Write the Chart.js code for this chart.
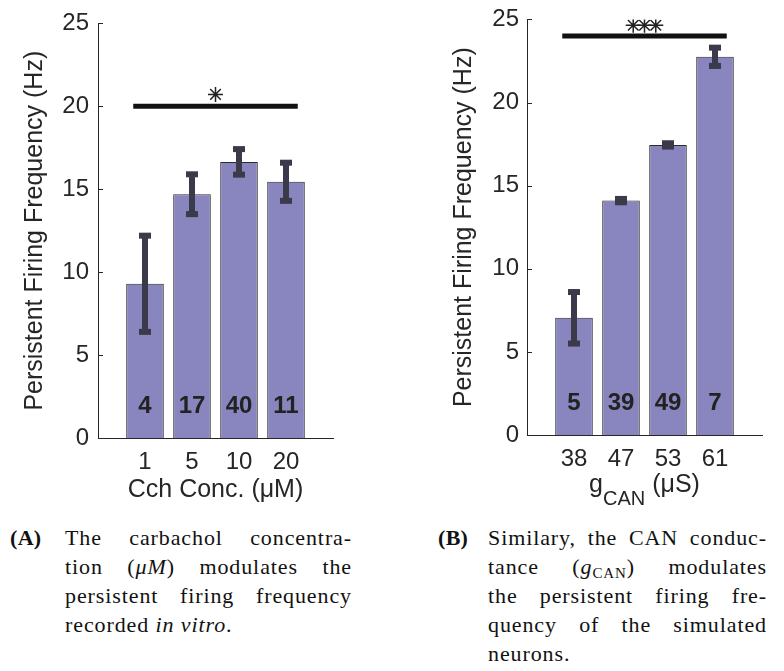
<!DOCTYPE html>
<html lang="en">
<head>
<meta charset="UTF-8">
<title>Persistent firing frequency</title>
<script src="https://cdn.jsdelivr.net/npm/chart.js"></script>
<style>
    body {
        margin: 0;
        background: #fff;
        width: 784px;
        height: 671px;
        position: relative;
        overflow: hidden;
    }
    .panel {
        position: absolute;
        width: 350px;
        height: 520px;
    }
    #panelA { left: 0; top: 0; }
    #panelB { left: 429px; top: -3px; }

    .caption {
        position: absolute;
        top: 523px;
        font-family: "Liberation Serif", "DejaVu Serif", serif;
        font-size: 22px;
        line-height: 29px;
        color: #111;
        letter-spacing: 0.9px;
    }
    .caption .tag {
        position: absolute;
        left: 0;
        top: 0;
        font-weight: bold;
        letter-spacing: 0.3px;
    }
    .caption .line {
        text-align: justify;
        text-align-last: justify;
    }
    .caption .line.last {
        text-align-last: left;
    }
    .caption sub {
        font-style: normal;
        font-size: 15px;
        line-height: 0;
        vertical-align: -4px;
    }
    #capA { left: 10px; }
    #capA .body { margin-left: 55px; width: 287px; }
    #capB { left: 438px; }
    #capB .body { margin-left: 50px; width: 279px; }
</style>
</head>
<body>
    <canvas id="panelA" class="panel" width="350" height="520"></canvas>
    <canvas id="panelB" class="panel" width="350" height="520"></canvas>

    <div class="caption" id="capA">
        <span class="tag">(A)</span>
        <div class="body">
            <div class="line">The carbachol concentra-</div>
            <div class="line">tion (<i>μM</i>) modulates the</div>
            <div class="line">persistent firing frequency</div>
            <div class="line last">recorded <i>in vitro</i>.</div>
        </div>
    </div>

    <div class="caption" id="capB">
        <span class="tag">(B)</span>
        <div class="body">
            <div class="line">Similary, the CAN conduc-</div>
            <div class="line">tance (<i>g</i><sub>CAN</sub>) modulates</div>
            <div class="line">the persistent firing fre-</div>
            <div class="line">quency of the simulated</div>
            <div class="line last">neurons.</div>
        </div>
    </div>

<script>
    // panel A: in vitro, carbachol concentration
    const cchLabels = ['1', '5', '10', '20'];
    const cchMeans = [9.3, 14.7, 16.65, 15.45];
    const cchErrs = [2.9, 1.2, 0.77, 1.15];
    const cchCounts = ['4', '17', '40', '11'];

    // panel B: simulated, CAN conductance
    const gcanLabels = ['38', '47', '53', '61'];
    const gcanMeans = [7.05, 14.1, 17.45, 22.75];
    const gcanErrs = [1.55, 0.1, 0.1, 0.55];
    const gcanCounts = ['5', '39', '49', '7'];

    const yTicks = [0, 5, 10, 15, 20, 25];
    const sigSpan = [0.75, 4.25];
    const sigLevelA = 20;
    const sigLevelB = 24;
    const starsA = [2.5];
    const starsB = [2.26, 2.5, 2.74];
    const starYA = 20.72;
    const starYB = 24.65;
    const countY = 1.9;

    const SANS = '"Liberation Sans", Arial, Helvetica, sans-serif';
    const TEXT = '#262626';
    const BAR = '#8985be';
    const ERR = '#3b3a4a';

    Chart.defaults.font.family = SANS;
    Chart.defaults.color = TEXT;

    const extras = {
        id: 'extras',
        afterDatasetsDraw(chart, args, opts) {
            const ctx = chart.ctx;
            const x = chart.scales.x, y = chart.scales.y;
            ctx.save();
            opts.means.forEach((m, i) => {
                const px = x.getPixelForValue(i + 1);
                const hi = y.getPixelForValue(m + opts.errs[i]);
                const lo = y.getPixelForValue(m - opts.errs[i]);
                ctx.strokeStyle = ERR;
                ctx.lineWidth = 6;
                ctx.beginPath();
                ctx.moveTo(px, hi);
                ctx.lineTo(px, lo);
                ctx.stroke();
                ctx.fillStyle = ERR;
                ctx.fillRect(px - 6, hi - 3, 12, 6);
                ctx.fillRect(px - 6, lo - 3, 12, 6);

                ctx.fillStyle = '#222';
                ctx.font = 'bold 24px ' + SANS;
                ctx.textAlign = 'center';
                ctx.textBaseline = 'middle';
                ctx.fillText(opts.counts[i], px, y.getPixelForValue(countY));
            });

            // inward ticks on the y axis
            ctx.strokeStyle = TEXT;
            ctx.lineWidth = 1;
            yTicks.forEach(v => {
                const py = Math.round(y.getPixelForValue(v)) + 0.5;
                ctx.beginPath();
                ctx.moveTo(chart.chartArea.left, py);
                ctx.lineTo(chart.chartArea.left + 5, py);
                ctx.stroke();
            });

            // x title with subscript (panel B)
            if (opts.subTitle) {
                const t = opts.subTitle;
                ctx.fillStyle = TEXT;
                ctx.textBaseline = 'alphabetic';
                ctx.textAlign = 'left';
                const big = '25px ' + SANS, small = '20px ' + SANS;
                ctx.font = big;
                const w1 = ctx.measureText(t[0]).width;
                const w3 = ctx.measureText(t[2]).width;
                ctx.font = small;
                const w2 = ctx.measureText(t[1]).width;
                const cx = (chart.chartArea.left + chart.chartArea.right) / 2;
                let sx = cx - (w1 + w2 + w3) / 2;
                const base = 495;
                ctx.font = big;
                ctx.fillText(t[0], sx, base);
                ctx.font = small;
                ctx.fillText(t[1], sx + w1, base + 13);
                ctx.font = big;
                ctx.fillText(t[2], sx + w1 + w2, base);
            }
            ctx.restore();
        }
    };

    function makeChart(id, labels, means, errs, counts, sigLevel, stars, starY, xTitle, subTitle, tickPad) {
        return new Chart(document.getElementById(id), {
            type: 'bar',
            data: {
                datasets: [{
                    type: 'bar',
                    data: means.map((v, i) => ({ x: i + 1, y: v })),
                    backgroundColor: BAR,
                    borderColor: '#2b2b2b',
                    borderWidth: 1,
                    barPercentage: 0.8,
                    categoryPercentage: 1,
                    order: 3
                }, {
                    type: 'line',
                    data: sigSpan.map(v => ({ x: v, y: sigLevel })),
                    borderColor: '#111',
                    borderWidth: 5,
                    pointRadius: 0,
                    order: 1
                }, {
                    type: 'scatter',
                    data: stars.map(v => ({ x: v, y: starY })),
                    pointStyle: 'star',
                    pointRadius: 7.5,
                    borderColor: '#222',
                    borderWidth: 1.5,
                    order: 0
                }]
            },
            options: {
                responsive: false,
                animation: false,
                layout: { padding: { top: 14, right: 17, left: 0, bottom: 0 } },
                plugins: {
                    legend: { display: false },
                    tooltip: { enabled: false },
                    extras: { means, errs, counts, subTitle }
                },
                scales: {
                    x: {
                        type: 'linear',
                        min: 0,
                        max: 5,
                        offset: false,
                        grid: { display: false, drawTicks: false },
                        border: { display: true, color: TEXT, width: 1 },
                        afterBuildTicks: s => { s.ticks = labels.map((l, i) => ({ value: i + 1 })); },
                        afterFit: s => { s.height = 82; },
                        ticks: {
                            autoSkip: false,
                            maxRotation: 0,
                            padding: 10,
                            color: TEXT,
                            font: { size: 24 },
                            callback: v => labels[v - 1]
                        },
                        title: {
                            display: !!xTitle,
                            text: xTitle,
                            color: TEXT,
                            font: { size: 25 },
                            padding: { top: 0, bottom: 15 }
                        }
                    },
                    y: {
                        min: 0,
                        max: 25,
                        grid: { display: false, drawTicks: false },
                        border: { display: true, color: TEXT, width: 1 },
                        afterFit: s => { s.width = 98; },
                        ticks: {
                            stepSize: 5,
                            padding: tickPad,
                            color: TEXT,
                            font: { size: 24 }
                        },
                        title: {
                            display: true,
                            text: 'Persistent Firing Frequency (Hz)',
                            color: TEXT,
                            font: { size: 25 },
                            padding: { top: 20, bottom: 0 }
                        }
                    }
                }
            },
            plugins: [extras]
        });
    }

    makeChart('panelA', cchLabels, cchMeans, cchErrs, cchCounts, sigLevelA, starsA, starYA,
        'Cch Conc. (μM)', null, 9);
    makeChart('panelB', gcanLabels, gcanMeans, gcanErrs, gcanCounts, sigLevelB, starsB, starYB,
        '', ['g', 'CAN', ' (μS)'], 8);
</script>
</body>
</html>
